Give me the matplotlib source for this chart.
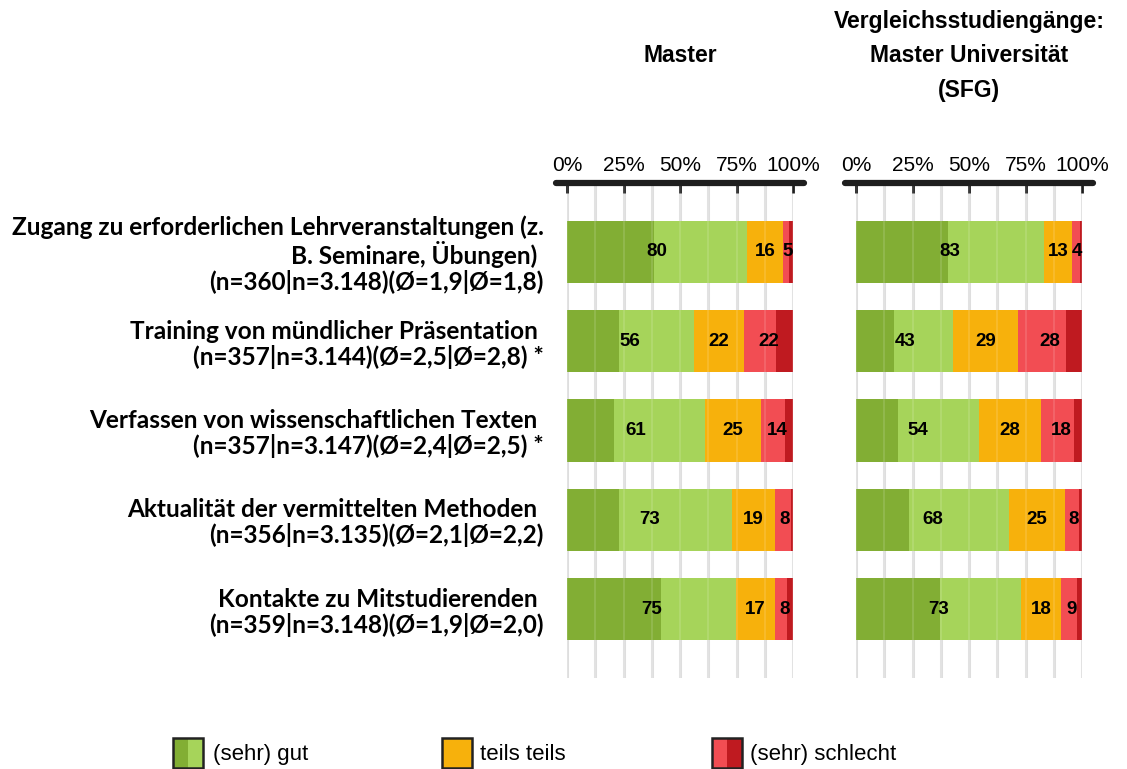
import matplotlib.pyplot as plt
import numpy as np
from matplotlib.patches import Rectangle
from matplotlib.lines import Line2D

# Row labels (top to bottom)
categories = [
    "Zugang zu erforderlichen Lehrveranstaltungen (z.\nB. Seminare, Übungen) \n(n=360|n=3.148)(Ø=1,9|Ø=1,8)",
    "Training von mündlicher Präsentation \n(n=357|n=3.144)(Ø=2,5|Ø=2,8) *",
    "Verfassen von wissenschaftlichen Texten \n(n=357|n=3.147)(Ø=2,4|Ø=2,5) *",
    "Aktualität der vermittelten Methoden \n(n=356|n=3.135)(Ø=2,1|Ø=2,2)",
    "Kontakte zu Mitstudierenden \n(n=359|n=3.148)(Ø=1,9|Ø=2,0)",
]
panel_titles = ["Master", "Vergleichsstudiengänge:\nMaster Universität\n(SFG)"]
legend_labels = ["(sehr) gut", "teils teils", "(sehr) schlecht"]
tick_values = [0, 25, 50, 75, 100]
tick_labels = ["0%", "25%", "50%", "75%", "100%"]

# shares in % : sehr gut, gut, teils teils, schlecht, sehr schlecht
master_sehr_gut = [38.6, 23.2, 21.0, 23.2, 41.7]
master_gut = [41.2, 32.8, 40.0, 49.8, 33.1]
master_teils = [15.6, 22.4, 25.0, 19.2, 17.4]
master_schlecht = [2.8, 14.2, 10.5, 7.1, 5.3]
master_sehr_schlecht = [1.8, 7.4, 3.5, 0.7, 2.5]

vgl_sehr_gut = [40.7, 16.8, 18.6, 23.5, 37.2]
vgl_gut = [42.3, 26.3, 35.8, 44.2, 36.0]
vgl_teils = [12.6, 28.6, 27.6, 24.7, 17.6]
vgl_schlecht = [3.5, 21.2, 14.5, 6.4, 7.0]
vgl_sehr_schlecht = [0.9, 7.1, 3.5, 1.2, 2.2]

colors = ['#82ae34', '#a6d45a', '#f7b10c', '#f24d53', '#bf1a20']

plt.rcParams['font.family'] = ['Liberation Sans', 'DejaVu Sans']

W, H = 1127, 769
fig = plt.figure(figsize=(W / 100, H / 100), dpi=100)


def fx(px):
    return px / W


def fy(py):
    return 1 - py / H


ax_top, ax_bot = 183, 678
ax1 = fig.add_axes([fx(567), fy(ax_bot), fx(226), fy(ax_top) - fy(ax_bot)])
ax2 = fig.add_axes([fx(856), fy(ax_bot), fx(226), fy(ax_top) - fy(ax_bot)])

panels = [
    (ax1, [master_sehr_gut, master_gut, master_teils, master_schlecht, master_sehr_schlecht]),
    (ax2, [vgl_sehr_gut, vgl_gut, vgl_teils, vgl_schlecht, vgl_sehr_schlecht]),
]

y = np.arange(len(categories))

for i, (ax, shares) in enumerate(panels):
    shares = [np.array(s) for s in shares]
    left = np.zeros(len(y))
    for vals, c in zip(shares, colors):
        ax.barh(y, vals, left=left, height=0.7, color=c, zorder=2)
        left = left + vals

    # combined labels: green, orange, red
    green = shares[0] + shares[1]
    orange = shares[2]
    red = shares[3] + shares[4]
    for j in range(len(y)):
        for start, width in [(0, green[j]), (green[j], orange[j]),
                             (green[j] + orange[j], red[j])]:
            ax.text(start + width / 2, y[j], str(int(round(width))),
                    ha='center', va='center', fontsize=13.5, fontweight='bold',
                    color='black', zorder=4)

    ax.set_xlim(0, 100)
    ax.set_ylim(4.77, -0.77)

    # grid lines
    for g in np.arange(0, 100.1, 12.5):
        ax.axvline(g, color='#dedede', lw=2.2, zorder=1)
        ax.axvline(g, color='white', lw=1.2, alpha=0.15, zorder=3)

    for s in ax.spines.values():
        s.set_visible(False)

    # thick top axis line with round caps
    ax.add_line(Line2D([-5, 105], [1, 1], transform=ax.get_xaxis_transform(),
                       color='#1e1e1e', lw=4.5, solid_capstyle='round',
                       clip_on=False, zorder=5))
    ax.xaxis.tick_top()
    ax.set_xticks(tick_values)
    ax.set_xticklabels(tick_labels, fontsize=15)
    ax.tick_params(axis='x', direction='in', length=7, width=2,
                   color='#1e1e1e', pad=6)

    if i == 0:
        ax.set_yticks(y)
        ax.set_yticklabels(categories, family=['Lato', 'DejaVu Sans'],
                           fontweight='bold', fontsize=17.6, linespacing=1.1)
        ax.tick_params(axis='y', length=0, pad=17)
    else:
        ax.set_yticks([])

# panel titles
fig.text(fx(680), fy(55), panel_titles[0], ha='center', va='center',
         fontsize=16.5, fontweight='bold')
fig.text(fx(969), fy(56), panel_titles[1], ha='center', va='center',
         fontsize=16.5, fontweight='bold', linespacing=1.62)

# legend
box = 30
legend_x = [173, 442, 712]
text_x = [213, 480, 750]
box_top = 738
for k, lab in enumerate(legend_labels):
    x0 = legend_x[k]
    if k == 0:
        halves = [colors[0], colors[1]]
    elif k == 1:
        halves = [colors[2], colors[2]]
    else:
        halves = [colors[3], colors[4]]
    for h, c in enumerate(halves):
        fig.add_artist(Rectangle((fx(x0 + h * box / 2), fy(box_top + box)),
                                 fx(box / 2), fy(box_top) - fy(box_top + box),
                                 transform=fig.transFigure, facecolor=c,
                                 edgecolor='none'))
    fig.add_artist(Rectangle((fx(x0), fy(box_top + box)), fx(box),
                             fy(box_top) - fy(box_top + box),
                             transform=fig.transFigure, facecolor='none',
                             edgecolor='#222222', lw=1.8))
    fig.text(fx(text_x[k]), fy(760), lab, ha='left',
             va='baseline', fontsize=16)

fig.savefig('out.png', dpi=100)
